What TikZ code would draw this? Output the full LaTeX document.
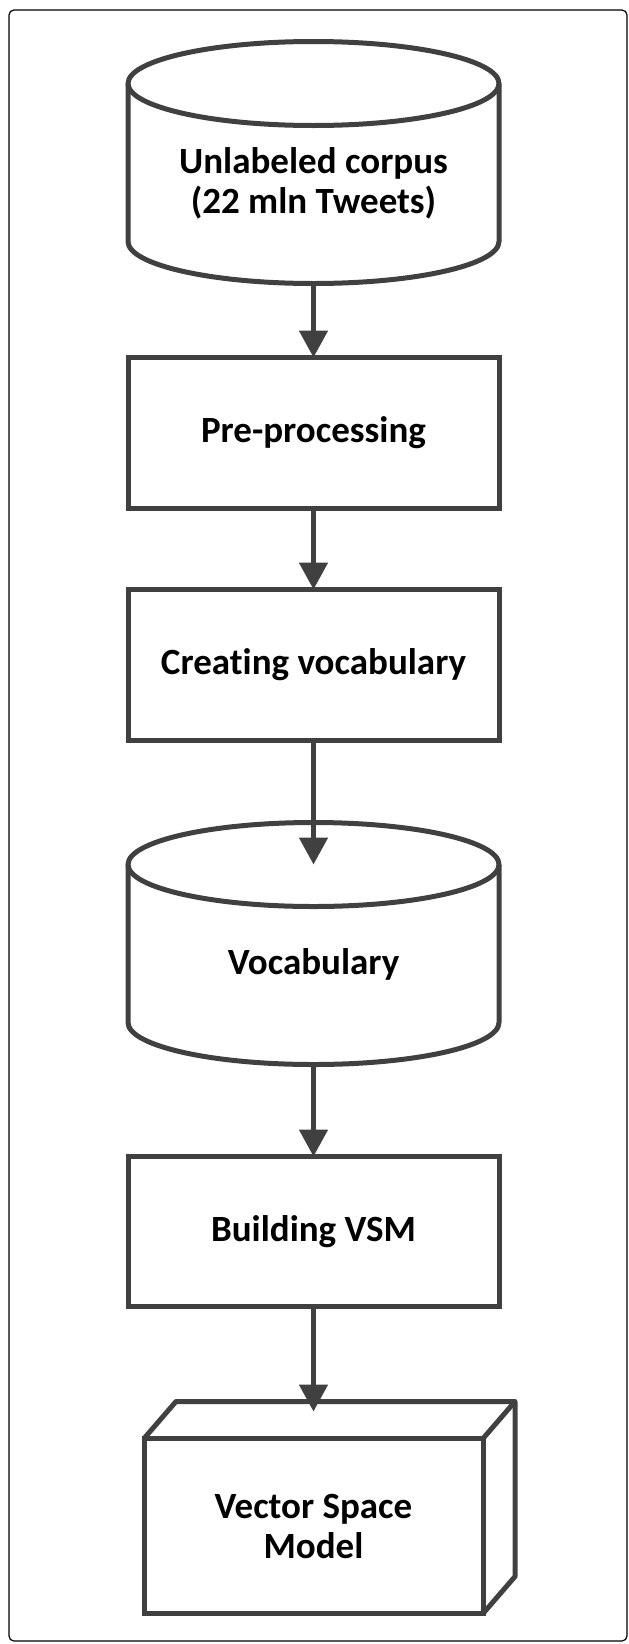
\documentclass[tikz,border=0pt]{standalone}
\usepackage{fontspec}
\setmainfont{Carlito}[Ligatures=NoCommon]
\usetikzlibrary{positioning,arrows.meta}
\definecolor{linegray}{HTML}{404040}

\begin{document}
\begin{tikzpicture}[x=1pt, y=1pt,
    box/.style={draw=linegray, line width=5pt, outer sep=0pt, minimum width=371pt, minimum height=151pt,
        align=center, font=\bfseries\fontsize{37}{40}\selectfont},
    drum/.style={box, draw=none, minimum height=200pt},
    outline/.style={draw=linegray, line width=5pt, line join=round},
    flow/.style={draw=linegray, line width=5pt, -{Triangle[length=27pt, width=28pt]}}]
    \useasboundingbox (0,0) rectangle (629,-1644);
    \draw[line width=1.2pt, rounded corners=5pt] (9,-10) rectangle (627,-1641);

    \node[drum] (corpus) at (313.5,-183.5) {Unlabeled corpus\\(22 mln Tweets)};
    \node[box, below=74pt of corpus] (prep) {Pre-processing};
    \node[box, below=81pt of prep] (create) {Creating vocabulary};
    \node[drum, below=124pt of create] (vocab) {Vocabulary};
    \node[box, below=92pt of vocab, minimum height=150pt] (build) {Building VSM};
    \node[box, below=132pt of build, minimum width=339pt, minimum height=175pt] (vsm) {Vector Space\\Model};
    \coordinate[above=27pt of vsm.north] (vsmin);

    % cylinders
    \draw[outline] (corpus.north) ellipse [x radius=185.5pt, y radius=42pt];
    \draw[outline] (corpus.north west) -- ([yshift=42pt]corpus.south west)
        arc[start angle=180, end angle=360, x radius=185.5pt, y radius=42pt] -- (corpus.north east);
    \draw[outline] (vocab.north) ellipse [x radius=185.5pt, y radius=42pt];
    \draw[outline] (vocab.north west) -- ([yshift=42pt]vocab.south west)
        arc[start angle=180, end angle=360, x radius=185.5pt, y radius=42pt] -- (vocab.north east);

    % cube
    \draw[outline] (vsm.north west) -- ++(32,37) -- ++(339,0) -- ++(0,-175) -- (vsm.south east);
    \draw[outline] (vsm.north east) -- ++(32,37);

    \draw[flow] (corpus.south) -- (prep.north);
    \draw[flow] (prep.south) -- (create.north);
    \draw[flow] (create.south) -- (vocab.north);
    \draw[flow] (vocab.south) -- (build.north);
    \draw[flow] (build.south) -- (vsmin);
\end{tikzpicture}
\end{document}
